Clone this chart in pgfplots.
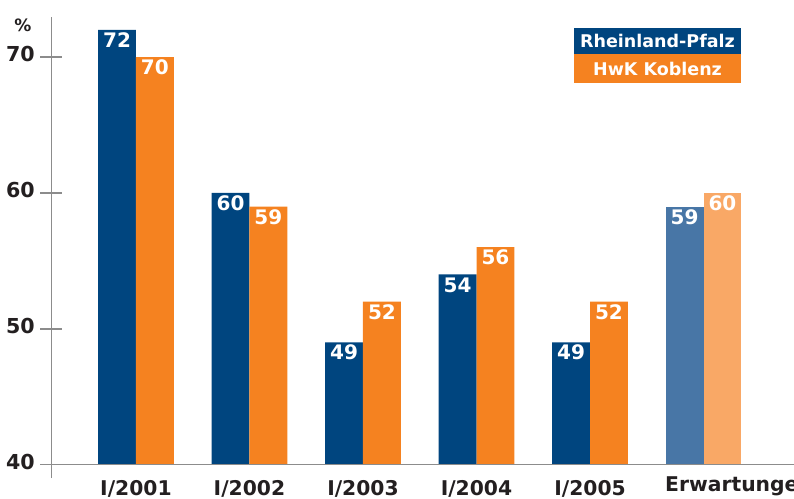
\documentclass[border=0pt]{standalone}
\usepackage{pgfplots}
\pgfplotsset{compat=1.18}
\usepackage{fontspec}
\setmainfont{DejaVu Sans}
\definecolor{dblue}{HTML}{00457F}
\definecolor{dorange}{HTML}{F58220}
\definecolor{lblue}{HTML}{4876A6}
\definecolor{lorange}{HTML}{F9A866}
\definecolor{axgray}{HTML}{8C8C8C}
\definecolor{txt}{HTML}{231F20}
\newcommand\lblfont{\bfseries\fontsize{20.6}{21}\selectfont}
\begin{document}
\begin{tikzpicture}
\useasboundingbox (-51.5pt,-33.5pt) rectangle (742.5pt,464.5pt);
\clip (-51.5pt,-33.5pt) rectangle (742.5pt,464.5pt);
\begin{axis}[
  at={(0pt,0pt)}, anchor=south west,
  scale only axis, width=742.5pt, height=448.1pt,
  xmin=-0.744, xmax=5.797, ymin=40, ymax=73,
  axis line style={draw=none},
  tick style={draw=none},
  clip mode=individual,
  /pgf/number format/assume math mode=true,
  ytick={40,50,60,70},
  yticklabel style={anchor=base east, inner sep=0pt, xshift=-16.5pt, yshift=-4.5pt, font=\lblfont, text=txt},
  xtick={0,1,2,3,4},
  xticklabels={I/2001,I/2002,I/2003,I/2004,I/2005},
  xticklabel style={anchor=base, inner sep=0pt, text depth=0pt, yshift=-27pt, font=\bfseries\fontsize{20.3}{21}\selectfont, text=txt},
  ybar, bar width=0.3335,
  nodes near coords,
  every node near coord/.append style={anchor=base, yshift=-17.7pt, inner sep=0pt, text=white, font=\bfseries\fontsize{20}{20}\selectfont},
]
\addplot[fill=dblue, draw=none, bar shift=-0.16675] coordinates {(0,72) (1,60) (2,49) (3,54) (4,49)};
\addplot[fill=dorange, draw=none, bar shift=0.16675] coordinates {(0,70) (1,59) (2,52) (3,56) (4,52)};
\addplot[fill=lblue, draw=none, bar shift=-0.16675] coordinates {(5,59)};
\addplot[fill=lorange, draw=none, bar shift=0.16675] coordinates {(5,60)};
\end{axis}
% axis lines
\draw[axgray, line width=1.8pt] (0pt,-13.5pt) -- (0pt,447.5pt);
\draw[axgray, line width=1.8pt] (-11.5pt,0pt) -- (742.5pt,0pt);
\foreach \yy in {135.8,271.6,407.4} {
  \draw[axgray, line width=1.8pt] (-11.5pt,\yy pt) -- (10.5pt,\yy pt);
}
\node[anchor=base west, inner sep=0pt, font=\bfseries\fontsize{20.3}{21}\selectfont, text=txt] at (613.5pt,-27pt) {Erwartungen};
\node[font=\bfseries\fontsize{17}{17}\selectfont, text=txt] at (-28.5pt,439pt) {\%};
% legend
\fill[dblue] (522.5pt,410.5pt) rectangle (689.5pt,436.5pt);
\fill[dorange] (522.5pt,381.5pt) rectangle (689.5pt,410.5pt);
\node[text=white, font=\bfseries\fontsize{17.5}{18}\selectfont] at (606pt,423.5pt) {Rheinland-Pfalz};
\node[text=white, font=\bfseries\fontsize{17.5}{18}\selectfont] at (606pt,396pt) {HwK Koblenz};
\end{tikzpicture}
\end{document}
